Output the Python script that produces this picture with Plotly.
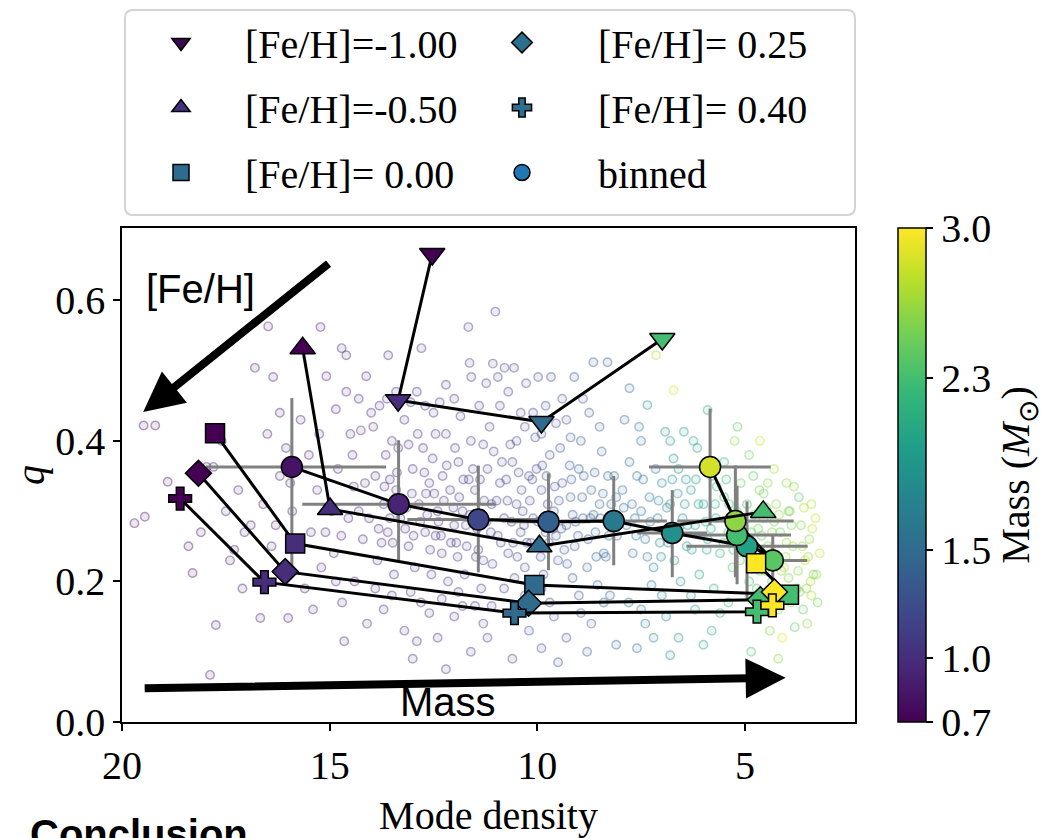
import plotly.graph_objects as go
from plotly.colors import sample_colorscale

# ---------------- data ----------------
MASS_MIN, MASS_MAX = 0.7, 3.0

# background stars: mode density, q, mass
bg_x = [19.7,19.45,19.48,19.2,18.9,18.6,18.3,17.96,17.8,17.74,17.88,18.1,17.5,17.3,17.2,17.6,17.1,17.4,18.4,17.05,
        16.67,16.0,16.48,16.8,16.36,16.5,16.2,16.9,16.4,16.1,15.9,15.7,15.5,15.22,15.08,14.71,14.6,15.3,15.1,14.9,
        14.8,14.5,14.3,14.2,14.12,14.4,15.6,15.4,14.7,14.1,16.6,15.8,14.95,14.55,15.2,16.2,14.3,15.95,14.15,14.65,
        13.59,12.79,13.8,13.5,13.2,12.9,12.5,12.2,11.63,11.59,11.23,11.07,11.01,11.66,
        13.9,13.7,13.6,13.4,13.3,13.1,13.0,12.85,12.7,12.6,12.4,12.3,12.1,12.0,11.9,11.8,11.7,11.5,11.4,11.3,11.2,11.1,
        13.85,13.45,12.95,12.55,12.15,11.75,11.35,13.65,12.75,12.2,11.6,11.15,
        13.7,13.2,12.8,12.4,12.0,11.6,11.3,13.0,12.2,11.8,
        13.25,12.65,12.25,11.95,11.45,13.55,12.45,11.65,
        10.79,10.56,10.95,10.27,9.98,9.67,9.11,8.65,8.31,10.4,9.8,9.3,8.9,8.5,
        10.9,10.8,10.7,10.6,10.5,10.4,10.3,10.2,10.1,10.0,9.9,9.8,9.7,9.6,9.5,9.4,9.3,9.2,9.1,9.0,8.9,8.8,8.7,8.6,8.5,
        8.4,8.3,8.2,8.1,10.65,10.05,9.45,8.95,8.45,
        10.8,10.5,10.2,9.9,9.6,9.3,9.0,8.7,8.4,8.1,10.6,9.5,8.8,
        10.35,9.75,9.15,8.65,10.15,9.55,
        7.78,7.14,6.72,7.35,7.9,7.5,6.92,6.47,6.8,6.24,5.9,5.5,
        7.95,7.85,7.7,7.6,7.5,7.4,7.3,7.2,7.1,7.0,6.9,6.8,6.7,6.6,6.5,6.4,6.3,6.2,6.1,6.0,5.9,5.8,5.7,5.6,5.5,5.4,5.3,
        5.2,5.1,
        7.8,7.4,7.0,6.6,6.2,5.8,5.4,7.6,6.8,6.0,
        7.65,7.05,6.45,5.95,5.35,6.75,
        5.18,5.25,4.64,4.9,4.3,4.0,
        4.95,4.85,4.75,4.65,4.55,4.45,4.35,4.25,4.15,4.05,3.95,3.85,3.75,3.65,3.55,3.45,3.35,3.3,4.5,4.2,3.9,3.6,3.4,
        4.7,4.4,4.1,3.8,3.5,4.9,4.6,4.3,4.0,3.7,3.4,4.8,4.45,3.2,3.25,4.85,4.2,3.95,4.65,
        14.85,14.45,14.25,14.05,13.95,13.75,13.55,13.35,13.15,12.98,12.88,12.68,12.52,12.38,12.28,12.08,11.98,11.88,
        11.72,11.55,11.42,11.28,11.12,11.05,13.05,12.35,11.85,13.62,14.42,14.72,
        15.45,15.75,16.05,16.3,15.25,14.85,13.9,13.05,12.3,11.5,
        10.95,10.85,10.72,10.58,10.45,10.32,10.18,10.02,9.92,9.78,9.62,9.48,9.35,9.22,9.08,8.92,8.78,8.62,8.48,8.35,
        8.22,8.08,10.55,9.85,9.15,8.55,10.3,9.55,8.75,10.9,
        7.92,7.78,7.62,7.45,7.28,7.15,7.02,6.88,6.72,6.58,6.42,6.28,6.12,5.98,5.82,5.68,5.52,5.38,5.22,5.12,
        7.25,6.55,5.75,7.55,6.15,
        4.92,4.78,4.62,4.48,4.32,4.18,4.02,3.88,3.72,3.58,3.48,3.38,3.28,4.72,4.38,4.08,3.68,3.42,4.55,3.82,
        13.82,13.68,13.48,13.38,13.18,13.02,12.82,12.72,12.58,12.48,12.32,12.18,12.02,11.92,11.78,11.62,11.48,11.38,
        11.22,11.08,10.98,10.88,10.75,10.62,10.48,10.38,10.25,10.12,9.98,9.88,9.72,9.58,9.42,9.28,9.18,9.02,8.88,8.72,
        8.58,8.42,8.28,8.15,
        14.6,14.0,13.4,12.7,12.0,11.4,10.7,10.1,9.4,13.1,12.45,11.3,10.5,9.9,9.2,
        7.72,7.35,7.08,6.85,6.62,6.38,6.18,5.92,5.72,5.45,5.28,5.05,4.88,4.68,4.52,4.35,4.12,3.92,3.62,3.52,
        13.5,12.6,11.9,11.1,10.3,9.7,8.95,8.25,7.5,6.9,6.3,5.6,12.9,11.2,9.9,7.2]
bg_q = [0.283,0.292,0.422,0.422,0.342,0.31,0.212,0.363,0.363,0.138,0.067,0.27,0.30,0.245,0.33,0.40,0.19,0.23,0.25,0.27,
        0.148,0.148,0.563,0.504,0.491,0.41,0.35,0.28,0.25,0.22,0.30,0.43,0.38,0.562,0.492,0.532,0.522,0.33,0.27,0.24,
        0.36,0.41,0.30,0.26,0.492,0.20,0.19,0.16,0.17,0.14,0.31,0.26,0.30,0.29,0.22,0.44,0.46,0.34,0.34,0.115,
        0.522,0.532,0.45,0.40,0.43,0.47,0.44,0.48,0.511,0.491,0.482,0.51,0.584,0.562,
        0.35,0.31,0.27,0.33,0.29,0.25,0.36,0.31,0.27,0.34,0.30,0.24,0.33,0.28,0.37,0.30,0.25,0.33,0.29,0.23,0.36,0.31,
        0.23,0.21,0.22,0.21,0.20,0.21,0.19,0.38,0.39,0.41,0.40,0.42,
        0.16,0.13,0.17,0.12,0.15,0.10,0.14,0.09,0.075,0.165,
        0.315,0.295,0.315,0.255,0.275,0.29,0.265,0.345,
        0.504,0.504,0.491,0.482,0.491,0.491,0.491,0.512,0.512,0.44,0.45,0.43,0.46,0.42,
        0.34,0.29,0.24,0.37,0.31,0.27,0.22,0.35,0.29,0.25,0.33,0.27,0.38,0.30,0.23,0.34,0.28,0.32,0.25,0.36,0.29,0.22,
        0.33,0.27,0.31,0.24,0.35,0.28,0.32,0.395,0.405,0.39,0.40,0.385,
        0.19,0.16,0.13,0.19,0.15,0.12,0.18,0.14,0.17,0.11,0.09,0.085,0.10,
        0.30,0.31,0.295,0.295,0.255,0.265,
        0.475,0.522,0.472,0.451,0.43,0.40,0.413,0.413,0.40,0.40,0.444,0.37,
        0.33,0.28,0.24,0.35,0.30,0.26,0.32,0.22,0.29,0.34,0.27,0.31,0.23,0.36,0.29,0.25,0.33,0.28,0.21,0.31,0.26,0.35,
        0.29,0.24,0.32,0.27,0.22,0.30,0.34,
        0.17,0.14,0.18,0.12,0.16,0.13,0.17,0.105,0.095,0.11,
        0.29,0.255,0.31,0.285,0.29,0.345,
        0.42,0.40,0.40,0.38,0.36,0.34,
        0.31,0.27,0.23,0.33,0.29,0.25,0.20,0.31,0.27,0.22,0.30,0.25,0.19,0.28,0.23,0.26,0.21,0.29,0.18,0.16,0.17,0.16,
        0.18,0.15,0.13,0.12,0.135,0.14,0.20,0.265,0.285,0.255,0.32,0.31,0.35,0.34,0.24,0.17,0.10,0.09,0.205,0.215,
        0.445,0.38,0.415,0.29,0.42,0.255,0.345,0.39,0.305,0.265,0.41,0.325,0.375,0.285,0.35,0.255,0.39,0.32,
        0.28,0.36,0.245,0.315,0.27,0.385,0.455,0.455,0.435,0.46,0.335,0.265,
        0.27,0.36,0.39,0.28,0.41,0.20,0.19,0.185,0.175,0.165,
        0.265,0.37,0.315,0.255,0.355,0.28,0.315,0.36,0.235,0.35,0.275,0.315,0.245,0.365,0.285,0.32,0.26,0.355,0.29,0.235,
        0.31,0.265,0.205,0.21,0.205,0.195,0.42,0.425,0.44,0.45,
        0.305,0.37,0.265,0.345,0.285,0.36,0.235,0.305,0.375,0.275,0.345,0.245,0.31,0.365,0.275,0.335,0.255,0.31,0.275,0.23,
        0.195,0.2,0.19,0.42,0.39,
        0.245,0.295,0.235,0.305,0.24,0.295,0.235,0.28,0.215,0.305,0.235,0.275,0.21,0.19,0.185,0.18,0.185,0.2,0.325,0.335,
        0.275,0.335,0.255,0.355,0.275,0.325,0.285,0.355,0.245,0.325,0.265,0.365,0.305,0.235,0.345,0.295,0.235,0.345,
        0.285,0.225,0.315,0.255,0.345,0.285,0.235,0.33,0.255,0.345,0.285,0.365,0.255,0.335,0.275,0.225,0.345,0.265,0.35,0.29,
        0.235,0.325,0.265,0.35,
        0.47,0.44,0.47,0.45,0.46,0.45,0.47,0.44,0.46,0.395,0.41,0.395,0.40,0.41,0.405,
        0.31,0.235,0.315,0.255,0.325,0.28,0.345,0.245,0.31,0.345,0.245,0.29,0.225,0.275,0.215,0.27,0.215,0.3,0.25,0.19,
        0.18,0.155,0.185,0.165,0.18,0.17,0.155,0.18,0.16,0.15,0.18,0.155,0.115,0.12,0.105,0.12]
bg_mass = [0.78,0.8,0.76,0.78,0.8,0.82,0.8,0.82,0.84,0.85,0.83,0.8,0.85,0.83,0.86,0.8,0.84,0.82,0.79,0.87,
           0.86,0.88,0.84,0.83,0.86,0.85,0.87,0.85,0.88,0.86,0.9,0.88,0.9,0.85,0.9,0.88,0.9,0.92,0.9,0.93,
           0.92,0.93,0.95,0.94,0.92,0.93,0.9,0.9,0.94,0.95,0.86,0.89,0.93,0.95,0.91,0.85,0.92,0.88,0.96,0.93,
           0.95,0.96,0.97,0.97,0.98,1.0,1.0,1.02,1.05,1.05,1.08,1.07,1.05,1.03,
           0.96,0.97,0.96,0.98,0.99,0.98,1.0,1.0,1.02,1.01,1.03,1.03,1.05,1.05,1.06,1.07,1.08,1.08,1.1,1.1,1.1,1.12,
           0.97,0.98,1.0,1.02,1.04,1.06,1.09,0.96,1.0,1.02,1.06,1.1,
           0.97,0.99,1.0,1.02,1.04,1.06,1.09,1.0,1.03,1.06,
           0.98,1.01,1.03,1.05,1.09,0.97,1.02,1.07,
           1.1,1.12,1.1,1.15,1.18,1.2,1.25,1.3,1.32,1.15,1.2,1.22,1.28,1.35,
           1.12,1.12,1.13,1.14,1.15,1.16,1.17,1.18,1.2,1.2,1.22,1.24,1.23,1.25,1.27,1.28,1.3,1.31,1.33,1.32,1.35,1.37,
           1.38,1.4,1.42,1.43,1.44,1.45,1.47,1.13,1.18,1.26,1.3,1.4,
           1.12,1.15,1.18,1.2,1.24,1.28,1.32,1.36,1.42,1.45,1.14,1.26,1.35,
           1.16,1.22,1.3,1.38,1.19,1.25,
           1.5,2.7,2.85,1.7,1.45,1.55,1.8,1.9,1.85,2.0,2.1,2.2,
           1.48,1.5,1.52,1.55,1.57,1.6,1.62,1.65,1.68,1.7,1.72,1.75,1.78,1.8,1.82,1.85,1.9,1.92,1.95,1.98,2.0,2.05,
           2.1,2.15,2.2,2.25,2.3,2.35,2.4,
           1.5,1.6,1.7,1.8,1.95,2.05,2.25,1.55,1.75,2.0,
           1.53,1.69,1.83,1.99,2.27,1.76,
           2.4,2.6,2.8,2.5,2.7,2.6,
           2.3,2.4,2.45,2.5,2.4,2.55,2.35,2.6,2.45,2.7,2.5,2.65,2.4,2.55,2.75,2.6,2.5,2.8,2.3,2.5,2.6,2.45,
           2.7,2.35,2.55,2.9,2.4,2.6,2.3,2.45,2.55,2.65,2.35,2.7,2.4,2.6,2.8,2.5,2.3,2.6,2.55,2.5,
           0.92,0.94,0.95,0.96,0.96,0.97,0.97,0.98,0.99,1.0,1.0,1.01,1.02,1.02,1.03,1.04,1.05,1.06,
           1.07,1.08,1.09,1.1,1.11,1.11,0.99,1.02,1.05,0.97,0.94,0.93,
           0.9,0.89,0.87,0.86,0.91,0.93,0.96,0.99,1.03,1.08,
           1.11,1.12,1.13,1.14,1.15,1.16,1.18,1.19,1.21,1.22,1.24,1.26,1.28,1.3,1.32,1.34,1.36,1.38,1.4,1.42,
           1.44,1.46,1.14,1.21,1.3,1.39,1.16,1.25,1.36,1.11,
           1.48,1.5,1.53,1.57,1.61,1.65,1.69,1.73,1.77,1.81,1.85,1.9,1.94,1.98,2.04,2.1,2.18,2.25,2.33,2.38,
           1.62,1.82,2.08,1.55,1.94,
           2.3,2.4,2.45,2.5,2.55,2.6,2.65,2.55,2.6,2.7,2.65,2.75,2.6,2.35,2.5,2.6,2.55,2.7,2.5,2.6,
           0.96,0.97,0.98,0.98,0.99,1.0,1.0,1.01,1.02,1.02,1.03,1.04,1.05,1.05,1.06,1.07,1.08,1.09,
           1.1,1.11,1.11,1.12,1.13,1.14,1.15,1.16,1.17,1.19,1.2,1.21,1.23,1.25,1.27,1.29,1.31,1.33,1.35,1.37,
           1.39,1.41,1.43,1.46,
           0.93,0.96,0.98,1.01,1.04,1.08,1.13,1.18,1.27,0.99,1.02,1.09,1.15,1.2,1.3,
           1.51,1.59,1.67,1.74,1.8,1.87,1.93,2.0,2.08,2.22,2.3,2.35,2.42,2.48,2.52,2.58,2.62,2.55,2.65,2.6,
           0.97,1.01,1.05,1.11,1.17,1.23,1.33,1.43,1.56,1.72,1.88,2.15,1.0,1.1,1.2,1.64]

# model tracks per metallicity (masses 0.7, 1.0, 1.5, 2.3, 3.0)
feh_labels = ["[Fe/H]=-1.00", "[Fe/H]=-0.50", "[Fe/H]= 0.00", "[Fe/H]= 0.25", "[Fe/H]= 0.40"]
feh_symbols = ["triangle-down", "triangle-up", "square", "diamond", "cross"]
feh_legend_colors = ["#3b0a4f", "#46317e", "#2d6c8e", "#2e6e8e", "#2e6e8e"]
track_x = [[12.53, 13.35, 9.90, 6.99],
           [15.65, 14.99, 9.95, 4.56],
           [17.76, 15.83, 10.07, 3.94, 4.73],
           [18.16, 16.07, 10.21, 4.63, 4.29],
           [18.60, 16.57, 10.55, 4.71, 4.34]]
track_q = [[0.666, 0.458, 0.427, 0.545],
           [0.532, 0.303, 0.250, 0.299],
           [0.411, 0.254, 0.195, 0.181, 0.226],
           [0.354, 0.214, 0.169, 0.174, 0.185],
           [0.318, 0.199, 0.155, 0.157, 0.166]]
track_mass = [[0.7, 1.0, 1.5, 2.3],
              [0.7, 1.0, 1.5, 2.3],
              [0.7, 1.0, 1.5, 2.3, 3.0],
              [0.7, 1.0, 1.5, 2.3, 3.0],
              [0.7, 1.0, 1.5, 2.3, 3.0]]
track_sizes = [22, 22, 19, 20, 19]

# binned medians
bin_x = [15.91, 13.34, 11.42, 9.73, 8.16, 6.75, 4.95, 5.19, 4.33, 5.23, 5.84]
bin_q = [0.363, 0.310, 0.288, 0.285, 0.286, 0.269, 0.250, 0.266, 0.230, 0.286, 0.363]
bin_mass = [0.82, 0.93, 1.2, 1.4, 1.62, 1.85, 2.0, 2.3, 2.4, 2.6, 2.85]
bin_xerr_plus = [2.07, 2.32, 1.71, 1.0, 1.28, 0.84, 1.46, 1.3, 0.57, 1.40, 1.47]
bin_xerr_minus = [2.27, 2.33, 1.71, 1.0, 1.28, 0.84, 1.46, 1.3, 0.83, 1.40, 1.46]
bin_qerr_plus = [0.098, 0.091, 0.077, 0.069, 0.064, 0.061, 0.064, 0.07, 0.038, 0.079, 0.083]
bin_qerr_minus = [0.150, 0.080, 0.075, 0.069, 0.063, 0.063, 0.076, 0.07, 0.043, 0.080, 0.083]

cbar_ticks = [0.7, 1.0, 1.5, 2.3, 3.0]
x_ticks = [20, 15, 10, 5]
y_ticks = [0.0, 0.2, 0.4, 0.6]

# ---------------- figure ----------------
SERIF = "Liberation Serif"
SANS = "Liberation Sans, Arial"
FS = 40


def rgba(c, a):
    return c.replace("rgb(", "rgba(").replace(")", f",{a})")


frac = [(m - MASS_MIN) / (MASS_MAX - MASS_MIN) for m in bg_mass]
base_cols = sample_colorscale("Viridis", frac)
fig = go.Figure()

fig.add_trace(go.Scatter(
    x=bg_x, y=bg_q, mode="markers", showlegend=False, hoverinfo="skip",
    marker=dict(size=8.5, color=[rgba(c, 0.1) for c in base_cols],
                line=dict(width=1.4, color=[rgba(c, 0.4) for c in base_cols]))))

# error bars of binned points
fig.add_trace(go.Scatter(
    x=bin_x, y=bin_q, mode="markers", showlegend=False, hoverinfo="skip",
    marker=dict(size=1, opacity=0),
    error_x=dict(type="data", symmetric=False, array=bin_xerr_plus, arrayminus=bin_xerr_minus,
                 color="#808080", thickness=3, width=0),
    error_y=dict(type="data", symmetric=False, array=bin_qerr_plus, arrayminus=bin_qerr_minus,
                 color="#808080", thickness=3, width=0)))

# binned line + markers (carries the colour bar)
fig.add_trace(go.Scatter(
    x=bin_x, y=bin_q, mode="lines+markers", showlegend=False,
    line=dict(color="black", width=3),
    marker=dict(size=21, symbol="circle", color=bin_mass, colorscale="Viridis",
                cmin=MASS_MIN, cmax=MASS_MAX, line=dict(color="black", width=1.5),
                showscale=True,
                colorbar=dict(x=1.059, xanchor="left", xpad=0, ypad=0, y=0.5, yanchor="middle",
                              len=1, lenmode="fraction", thickness=28,
                              outlinecolor="black", outlinewidth=1.5,
                              ticks="outside", ticklen=7, tickwidth=1.5, tickcolor="black",
                              tickvals=cbar_ticks, ticktext=[f"{v:.1f}" for v in cbar_ticks],
                              tickfont=dict(family=SERIF, size=FS, color="black"),
                              title=dict(text="Mass (<i>M</i><sub>⊙</sub>)", side="right",
                                         font=dict(family=SERIF, size=FS, color="black"))))))

for i in range(len(feh_labels)):
    fig.add_trace(go.Scatter(
        x=track_x[i], y=track_q[i], mode="lines+markers", showlegend=False,
        line=dict(color="black", width=3),
        marker=dict(size=track_sizes[i], symbol=feh_symbols[i], color=track_mass[i],
                    colorscale="Viridis", cmin=MASS_MIN, cmax=MASS_MAX,
                    line=dict(color="black", width=1.5))))

# legend entries: two legends = two columns
leg_names = feh_labels + ["binned"]
leg_symbols = feh_symbols + ["circle"]
leg_colors = feh_legend_colors + ["#1f77b4"]
leg_column = ["legend", "legend", "legend", "legend2", "legend2", "legend2"]
for k in range(len(leg_names)):
    fig.add_trace(go.Scatter(
        x=[None], y=[None], mode="markers", name=leg_names[k], legend=leg_column[k],
        legendgroup=f"g{k}",
        marker=dict(size=16, symbol=leg_symbols[k], color=leg_colors[k],
                    line=dict(color="black", width=1.5))))

# legend frame (rounded)
x0, x1, y0, y1 = 0.0041, 1.0, 1.0263, 1.4413
rx, ry = 8 / 733, 8 / 494
frame_path = (f"M{x0+rx},{y1} L{x1-rx},{y1} Q{x1},{y1} {x1},{y1-ry} L{x1},{y0+ry} Q{x1},{y0} {x1-rx},{y0} "
              f"L{x0+rx},{y0} Q{x0},{y0} {x0},{y0+ry} L{x0},{y1-ry} Q{x0},{y1} {x0+rx},{y1} Z")
fig.add_shape(type="path", path=frame_path, xref="paper", yref="paper",
              line=dict(color="#d4d4d4", width=2), fillcolor="rgba(255,255,255,0.8)", layer="below")

# arrows and labels
fig.add_annotation(x=19.49, y=0.441, ax=14.99, ay=0.654, xref="x", yref="y", axref="x", ayref="y",
                   text="", showarrow=True, arrowhead=2, arrowsize=1, arrowwidth=8, arrowcolor="black")
fig.add_annotation(x=4.02, y=0.063, ax=19.49, ay=0.048, xref="x", yref="y", axref="x", ayref="y",
                   text="", showarrow=True, arrowhead=2, arrowsize=1, arrowwidth=8, arrowcolor="black")
fig.add_annotation(x=18.12, y=0.616, xref="x", yref="y", text="[Fe/H]", showarrow=False,
                   font=dict(family=SANS, size=FS, color="black"))
fig.add_annotation(x=12.15, y=0.028, xref="x", yref="y", text="Mass", showarrow=False,
                   font=dict(family=SANS, size=FS, color="black"))
fig.add_annotation(x=-0.128, y=-0.179, xref="paper", yref="paper", xanchor="left", yanchor="top",
                   text="<b>Conclusion</b>", showarrow=False,
                   font=dict(family=SANS, size=FS, color="black"))

axis_common = dict(showline=True, linecolor="black", linewidth=1.5, mirror=True,
                   ticks="outside", ticklen=7, tickwidth=1.5, tickcolor="black",
                   showgrid=False, zeroline=False,
                   tickfont=dict(family=SERIF, size=FS, color="black"))
fig.update_xaxes(range=[20, 2.35], tickvals=x_ticks, ticktext=[str(v) for v in x_ticks],
                 title=dict(text="Mode density", font=dict(family=SERIF, size=FS, color="black"),
                            standoff=19),
                 **axis_common)
fig.update_yaxes(range=[0, 0.703], tickvals=y_ticks, ticktext=[f"{v:.1f}" for v in y_ticks],
                 title=dict(text="<i>q</i>", font=dict(family=SERIF, size=FS, color="black"),
                            standoff=20),
                 **axis_common)

legend_common = dict(orientation="v", xanchor="left", yanchor="top",
                     tracegroupgap=10, bgcolor="rgba(0,0,0,0)", borderwidth=0,
                     font=dict(family=SERIF, size=FS, color="black"))
# page has an 8px body margin: shrink the figure so the plot area lands where the reference has it
fig.update_layout(
    width=1045, height=830,
    margin=dict(l=114, r=198, t=220, b=116, autoexpand=False),
    paper_bgcolor="white", plot_bgcolor="white",
    font=dict(family=SERIF, size=FS, color="black"),
    legend=dict(x=-0.0068, y=1.4413, itemwidth=118, **legend_common),
    legend2=dict(x=0.442, y=1.4413, itemwidth=142, **legend_common),
)

fig.write_html("out.html")
